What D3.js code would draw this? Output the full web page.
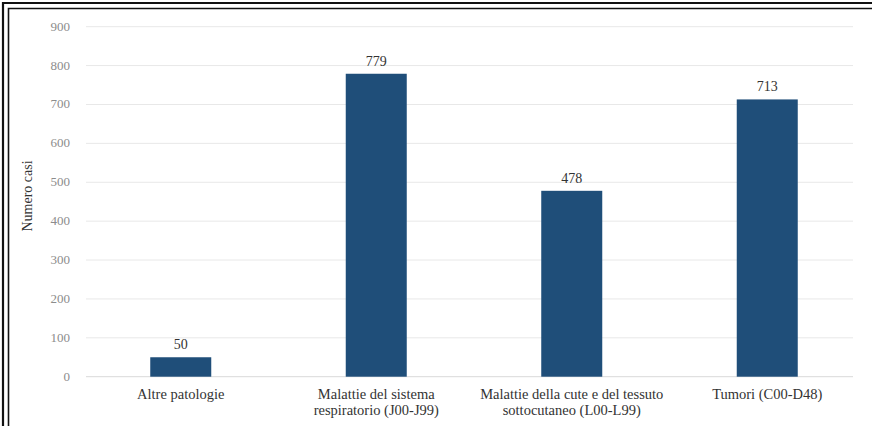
<!DOCTYPE html>
<html>
<head>
<meta charset="utf-8">
<script src="https://cdn.jsdelivr.net/npm/d3@7"></script>
<style>
  body { margin: 0; background: #fff; }
  svg { display: block; }
</style>
</head>
<body>
<svg id="svg" width="872" height="426"></svg>
<script>
var categories = [
  ['Altre patologie'],
  ['Malattie del sistema', 'respiratorio (J00-J99)'],
  ['Malattie della cute e del tessuto', 'sottocutaneo (L00-L99)'],
  ['Tumori (C00-D48)']
];
var values = [50, 779, 478, 713];
var yTicks = [0, 100, 200, 300, 400, 500, 600, 700, 800, 900];
var yTitle = 'Numero casi';

var svg = d3.select('svg');
var font = "'Liberation Serif'";

// frame (double line, top and left only)
svg.append('path').attr('d', 'M3,426 V3 H872').attr('fill', 'none').attr('stroke', '#111').attr('stroke-width', 2.2);
svg.append('path').attr('d', 'M8.5,426 V8.5 H872').attr('fill', 'none').attr('stroke', '#111').attr('stroke-width', 1.6);

var x = d3.scaleBand().domain(d3.range(categories.length)).range([83, 865]).padding(0);
var y = d3.scaleLinear().domain([0, 900]).range([376.7, 26.7]);
var barW = 61;

// gridlines
svg.append('g').selectAll('line').data(yTicks).enter().append('line')
  .attr('x1', 86).attr('x2', 853)
  .attr('y1', function(d) { return y(d); })
  .attr('y2', function(d) { return y(d); })
  .attr('stroke', function(d) { return d === 0 ? '#d9d9d9' : '#e8e8e8'; })
  .attr('stroke-width', 1);

// y tick labels
svg.append('g').selectAll('text').data(yTicks).enter().append('text')
  .attr('x', 70).attr('y', function(d) { return y(d) + 4; })
  .attr('text-anchor', 'end')
  .attr('font-family', font).attr('font-size', 13).attr('fill', '#8c8c8c')
  .text(function(d) { return d; });

// y title
svg.append('text')
  .attr('transform', 'translate(32,196) rotate(-90)')
  .attr('text-anchor', 'middle')
  .attr('font-family', font).attr('font-size', 14).attr('fill', '#333')
  .text(yTitle);

// bars
svg.append('g').selectAll('rect').data(values).enter().append('rect')
  .attr('x', function(d, i) { return x(i) + x.bandwidth() / 2 - barW / 2; })
  .attr('y', function(d) { return y(d); })
  .attr('width', barW)
  .attr('height', function(d) { return y(0) - y(d); })
  .attr('fill', '#1f4e79');

// value labels
svg.append('g').selectAll('text').data(values).enter().append('text')
  .attr('x', function(d, i) { return x(i) + x.bandwidth() / 2; })
  .attr('y', function(d) { return y(d) - 8; })
  .attr('text-anchor', 'middle')
  .attr('font-family', font).attr('font-size', 14).attr('fill', '#333')
  .text(function(d) { return d; });

// category labels
var cat = svg.append('g').selectAll('text').data(categories).enter().append('text')
  .attr('text-anchor', 'middle')
  .attr('font-family', font).attr('font-size', 14.5).attr('fill', '#333');
cat.selectAll('tspan').data(function(d, i) { return d.map(function(s) { return {s: s, i: i}; }); })
  .enter().append('tspan')
  .attr('x', function(d) { return x(d.i) + x.bandwidth() / 2; })
  .attr('y', function(d, j) { return 399 + j * 16; })
  .text(function(d) { return d.s; });
</script>
</body>
</html>
